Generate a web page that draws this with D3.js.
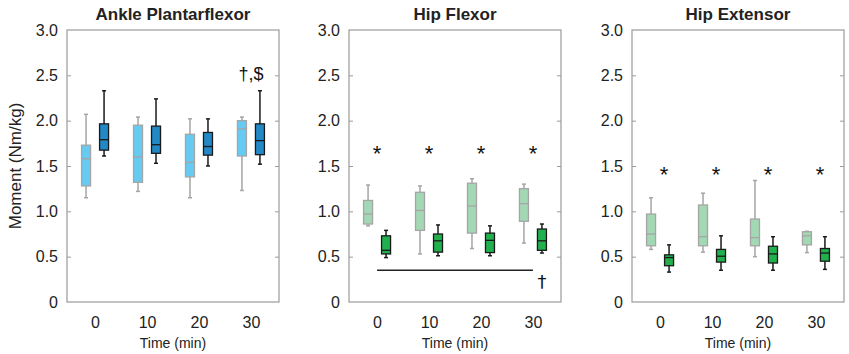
<!DOCTYPE html>
<html lang="en">
<head>
  <meta charset="UTF-8">
  <title>Moment boxplots</title>
  <style>
    body{ margin:0; background:#fff; }
    text{ font-family: 'Liberation Sans', Arial, sans-serif; fill:#222; }
    .title{ font-size:17px; font-weight:700; }
    .tick text{ font-size:16px; fill:#222; }
    .xLabel{ font-size:14px; }
    .yLabel{ font-size:17px; }
    .frame{ fill:none; stroke:#9a9a9a; stroke-width:1.2px; }
    .star{ font-size:22px; }
    .mark{ fill:#111; }
    .dagger{ font-family:'DejaVu Sans', sans-serif; fill:#111; }
  </style>
  <script src="https://cdnjs.cloudflare.com/ajax/libs/d3/7.8.5/d3.min.js"></script>
</head>
<body>
<div class="container"></div>
<script>
  // time points
  var times = ['0', '10', '20', '30'];
  var panelTitles = ['Ankle Plantarflexor', 'Hip Flexor', 'Hip Extensor'];
  var yTicks = [0, 0.5, 1.0, 1.5, 2.0, 2.5, 3.0];

  // [whisker low, q1, median, q3, whisker high] per time
  var anklePre  = [[1.15,1.28,1.58,1.73,2.07],[1.22,1.32,1.60,1.95,2.04],[1.15,1.38,1.54,1.85,2.02],[1.23,1.61,1.91,2.00,2.04]];
  var anklePost = [[1.61,1.675,1.79,1.965,2.33],[1.53,1.64,1.735,1.94,2.24],[1.50,1.62,1.715,1.87,2.02],[1.52,1.625,1.78,1.965,2.33]];
  var flexPre   = [[0.84,0.86,0.97,1.12,1.29],[0.53,0.79,1.01,1.21,1.28],[0.59,0.76,1.06,1.31,1.36],[0.65,0.89,1.085,1.25,1.30]];
  var flexPost  = [[0.49,0.53,0.57,0.73,0.79],[0.51,0.55,0.675,0.75,0.85],[0.51,0.545,0.68,0.76,0.84],[0.54,0.57,0.675,0.805,0.86]];
  var extPre    = [[0.58,0.62,0.75,0.97,1.15],[0.55,0.62,0.72,1.07,1.20],[0.50,0.62,0.71,0.915,1.34],[0.545,0.63,0.73,0.775,0.78]];
  var extPost   = [[0.33,0.40,0.49,0.52,0.63],[0.35,0.44,0.505,0.58,0.73],[0.35,0.43,0.53,0.615,0.72],[0.36,0.45,0.54,0.59,0.72]];

  var starLevel = [null, 1.70, 1.47];
  var lineLevel = 0.35;

  var panels = [
    {pre: anklePre, post: anklePost, light: '#66cbf2', dark: '#2388c6'},
    {pre: flexPre,  post: flexPost,  light: '#a3d8b4', dark: '#21b04e'},
    {pre: extPre,   post: extPost,   light: '#a3d8b4', dark: '#21b04e'}
  ];

  var svg = d3.select('.container').append('svg')
      .attr('width', 849).attr('height', 354);

  var panelLeft = [67, 349, 632];
  var pw = 212, plotTop = 30, plotBottom = 302;
  var y = d3.scaleLinear().domain([0, 3]).range([plotBottom, plotTop]);
  var boxW = 9, off = 9, capW = 4;

  panels.forEach(function(p, i){
    var g = svg.append('g').attr('transform', `translate(${panelLeft[i]},0)`);
    var x = d3.scalePoint().domain(times).range([0, pw]).padding(0.54);

    g.append('rect').attr('class','frame')
      .attr('x',0).attr('y',plotTop).attr('width',pw).attr('height',plotBottom-plotTop);

    // y axis (ticks inside)
    var yAxis = d3.axisLeft(y).tickValues(yTicks).tickSize(-4).tickPadding(9)
      .tickFormat(function(d){ return d === 0 ? '0' : d3.format('.1f')(d); });
    var ya = g.append('g').call(yAxis);
    ya.select('.domain').remove();
    ya.selectAll('line').attr('stroke','#9a9a9a');
    var yr = g.append('g').attr('transform',`translate(${pw},0)`)
      .call(d3.axisRight(y).tickValues(yTicks).tickSize(-4).tickFormat(''));
    yr.select('.domain').remove();
    yr.selectAll('line').attr('stroke','#9a9a9a');
    yr.selectAll('.tick').filter(function(d){ return d === 0 || d === 3; }).remove();
    ya.selectAll('.tick line').filter(function(d){ return d === 0 || d === 3; }).remove();

    // x axis labels
    var xa = g.append('g').attr('transform',`translate(0,${plotBottom})`)
      .call(d3.axisBottom(x).tickSize(0).tickPadding(15));
    xa.select('.domain').remove();

    g.append('text').attr('class','xLabel')
      .attr('x', pw/2).attr('y', 348).attr('text-anchor','middle').text('Time (min)');
    g.append('text').attr('class','title')
      .attr('x', pw/2).attr('y', 20).attr('text-anchor','middle').text(panelTitles[i]);

    function drawBoxes(data, dx, fill, stroke){
      var b = g.append('g').selectAll('g').data(data).enter().append('g')
        .attr('transform', function(d, j){ return `translate(${x(times[j]) + dx},0)`; });
      b.append('line').attr('x1',0).attr('x2',0)
        .attr('y1', function(d){ return y(d[0]); }).attr('y2', function(d){ return y(d[4]); })
        .attr('stroke', stroke).attr('stroke-width',1.5);
      b.append('line').attr('x1',-capW/2).attr('x2',capW/2)
        .attr('y1', function(d){ return y(d[0]); }).attr('y2', function(d){ return y(d[0]); })
        .attr('stroke', stroke).attr('stroke-width',1.5);
      b.append('line').attr('x1',-capW/2).attr('x2',capW/2)
        .attr('y1', function(d){ return y(d[4]); }).attr('y2', function(d){ return y(d[4]); })
        .attr('stroke', stroke).attr('stroke-width',1.5);
      b.append('rect').attr('x',-boxW/2).attr('width',boxW)
        .attr('y', function(d){ return y(d[3]); })
        .attr('height', function(d){ return y(d[1]) - y(d[3]); })
        .attr('fill', fill).attr('stroke', stroke).attr('stroke-width',1.3);
      b.append('line').attr('x1',-boxW/2).attr('x2',boxW/2)
        .attr('y1', function(d){ return y(d[2]); }).attr('y2', function(d){ return y(d[2]); })
        .attr('stroke', stroke).attr('stroke-width',1.3);
    }
    drawBoxes(p.pre, -off, p.light, '#a5a5a5');
    drawBoxes(p.post, off, p.dark, '#1a1a1a');

    if (starLevel[i] !== null) {
      g.append('g').selectAll('text').data(times).enter().append('text')
        .attr('class','star mark').attr('text-anchor','middle')
        .attr('x', function(d){ return x(d) + (i === 2 ? 4 : 0); })
        .attr('y', y(starLevel[i]) + 13)
        .text('*');
    }
    if (i === 0) {
      g.append('text').attr('class','mark').attr('x', x('30')).attr('y', 80).attr('text-anchor','middle')
        .style('font-size','18px').text('\u2020,$');
    }
    if (i === 1) {
      g.append('line').attr('x1', x('0')).attr('x2', x('30'))
        .attr('y1', y(lineLevel)).attr('y2', y(lineLevel))
        .attr('stroke','#222').attr('stroke-width',1.3);
      g.append('text').attr('class','dagger').attr('x', x('30') + 9).attr('y', y(lineLevel) + 18)
        .attr('text-anchor','middle').style('font-size','18px').text('\u2020');
    }
  });

  svg.append('text').attr('class','yLabel')
    .attr('transform','translate(21,166) rotate(-90)')
    .attr('text-anchor','middle').text('Moment (Nm/kg)');
</script>
</body>
</html>
